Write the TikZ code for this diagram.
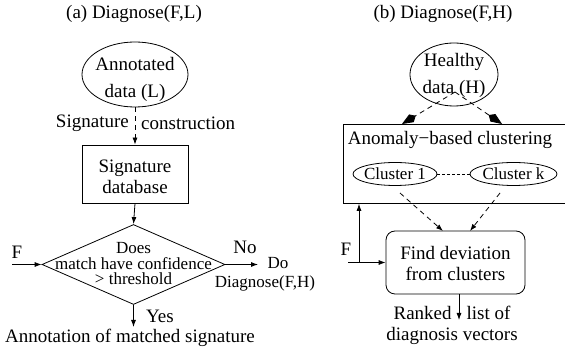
\documentclass[tikz,border=0pt]{standalone}
\usepackage{fontspec}
\setmainfont{Liberation Serif}
\usetikzlibrary{shapes.geometric,arrows.meta}
\begin{document}
\begin{tikzpicture}[x=1pt,y=-1pt,
  every node/.style={font=\fontsize{19}{21}\selectfont, inner sep=0pt},
  conn/.style={line width=0.8pt},
  tip/.style={-{Latex[length=7pt,width=5pt]}},
  bigtip/.style={-{Kite[length=16pt,width=9pt,inset=5pt]}},
  dsh/.style={dash pattern=on 5pt off 4pt},
  ell/.style={draw, ellipse, line width=0.8pt},
  box/.style={draw, rectangle, line width=0.8pt},
  small/.style={font=\fontsize{17}{15.5}\selectfont},
  twoline/.style={align=center, font=\fontsize{19}{27}\selectfont},
  midline/.style={align=center, font=\fontsize{19}{21}\selectfont}]
\useasboundingbox (0,0) rectangle (565,352);
\clip (0,0) rectangle (565,352);

% ---------- (a) ----------
\node (ta) at (134,14) {(a) Diagnose(F,L)};
\node[ell, minimum width=106pt, minimum height=65pt] (L) at (135,74.5) {};
\node[twoline] (Lt) at (135,79) {Annotated\\data (L)};
\node[box, minimum width=106pt, minimum height=58pt] (S) at (135,174) {};
\node[midline] (St) at (135,177) {Signature\\database};
\node[draw, diamond, line width=0.8pt, minimum width=183pt, minimum height=80pt] (D) at (133.5,264.5) {};
\node[small, align=center] (Dt) at (133.5,264) {Does\\match have confidence\\\textgreater{} threshold};

\draw[conn, dsh, tip] (L.south) -- (S.north);
\node[anchor=east] (sg1) at (129,123) {Signature};
\node[anchor=west] (sg2) at (141,123) {construction};
\draw[conn, tip] (S.south) -- (D.north);

\coordinate (Fa) at (12,264.5);
\draw[conn, tip] (Fa) -- (D.west);
\node (Fl) at (17,252) {F};

\coordinate (No) at (258,264.5);
\draw[conn, tip] (D.east) -- (No);
\node (nol) at (245,247) {No};
\node[align=center, font=\fontsize{17}{19}\selectfont] (do) at (265,274) {\hspace*{26pt}Do\\Diagnose(F,H)};

\coordinate (Ye) at (133.5,327);
\draw[conn, tip] (D.south) -- (Ye);
\node (yes) at (160,316) {Yes};
\node (ann) at (130,338) {Annotation of matched signature};

% ---------- (b) ----------
\node (tb) at (443,14) {(b) Diagnose(F,H)};
\node[ell, minimum width=88pt, minimum height=63pt] (H) at (454,74.5) {};
\node[twoline] (Ht) at (454,75) {Healthy\\data (H)};

\node[box, anchor=north west, minimum width=260pt, minimum height=79pt] (C) at (343,124) {};
\node (Ct) at (450,140) {Anomaly−based clustering};

\coordinate (Hs) at (455,92);
\coordinate (C1top) at (402,124);
\coordinate (C2top) at (502,124);
\draw[conn, dsh, bigtip] (Hs) -- (C1top);
\draw[conn, dsh, bigtip] (Hs) -- (C2top);

\node[ell, minimum width=84pt, minimum height=23pt] (K1) at (395,174) {};
\node[small] (K1t) at (395,174) {Cluster 1};
\node[ell, minimum width=87pt, minimum height=23pt] (K2) at (513.5,174) {};
\node[small] (K2t) at (513.5,174) {Cluster k};
\draw[conn, dash pattern=on 3pt off 2pt] (K1.east) -- (K2.west);

\node[box, rounded corners=9pt, minimum width=139pt, minimum height=63pt] (Fd) at (455.5,262.5) {};
\node[midline] (Fdt) at (455.5,264) {Find deviation\\from clusters};

\coordinate (K1b) at (400,193);
\coordinate (K2b) at (500,193);
\coordinate (Fd1) at (443,231);
\coordinate (Fd2) at (470,231);
\draw[conn, dsh, tip] (K1b) -- (Fd1);
\draw[conn, dsh, tip] (K2b) -- (Fd2);

\coordinate (Fr0) at (348,262.5);
\coordinate (Fr1) at (359,262.5);
\draw[conn, tip] (Fr0) -- (Fd.west);
\draw[conn, tip] (Fr1) -- (Fr1 |- C.south);
\node (Frl) at (346,249) {F};

\coordinate (Oe) at (459,320);
\draw[conn, tip] (Fd.south -| Oe) -- (Oe);
\node[midline] (out) at (452,325) {Ranked\hspace{15pt}list of\\diagnosis vectors};
\end{tikzpicture}
\end{document}
